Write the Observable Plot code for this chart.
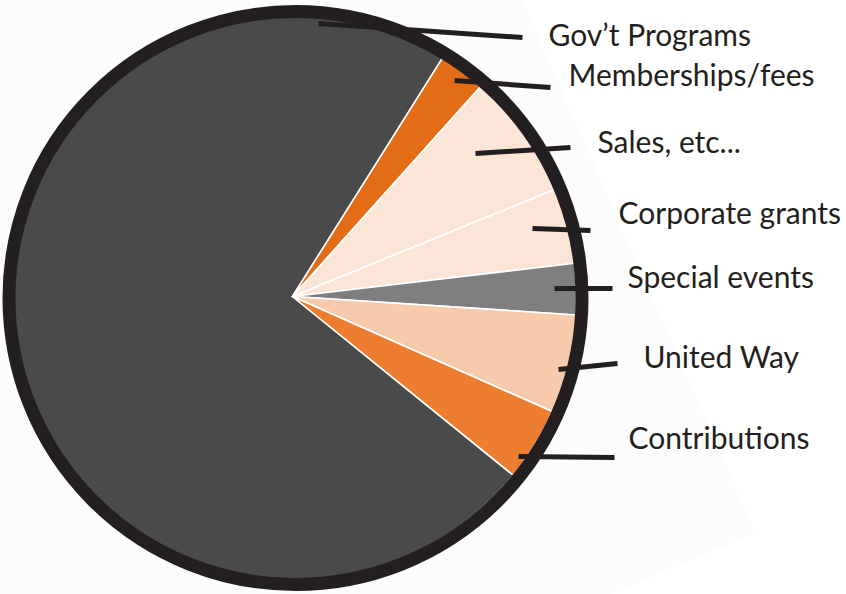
<!DOCTYPE html>
<html><head><meta charset="utf-8">
<script src="https://cdn.jsdelivr.net/npm/d3@7"></script>
<script src="https://cdn.jsdelivr.net/npm/@observablehq/plot@0.6"></script>
<style>
html,body{margin:0;padding:0;background:#fff;overflow:hidden}
#chart svg{display:block}
</style>
</head><body><div id="chart"></div>
<script>
// ---- data ----
const categories = ["Gov’t Programs","Memberships/fees","Sales, etc...","Corporate grants","Special events","United Way","Contributions"];
const shares = [73.1, 2.7, 7.2, 4.3, 2.9, 5.6, 4.2];
const colors = ["#4a4a4a","#e36c17","#fbe5d6","#fbe5d6","#7f7f7f","#f7caac","#ed7d31"];

// ---- layout (pixel space) ----
const W = 846, H = 594;
const center = {x: 292, y: 296};
const pieR = 284;
const startDeg = 129;
const ring = {x: 295, y: 297.5, r: 286.5, w: 13};
const labelX = [548, 568, 597, 618, 627, 643, 628];
const labelY = [45, 85, 152, 223, 287, 367, 448];
const leadFrom = [[318,23],[454,80],[475,153],[532,228],[554,288],[558,369],[518,456]];
const leadTo   = [[522,37],[550,87],[570,147],[590,230],[612,288],[617,363],[614,457]];
const page = [[0,0],[522,0],[755,532],[610,594],[0,594]];

// ---- build slices ----
const a0 = startDeg * Math.PI / 180;
const arcs = d3.pie().sort(null).startAngle(a0).endAngle(a0 + 2*Math.PI)(shares);
const verts = [];
arcs.forEach((a, i) => {
  const cat = categories[i];
  verts.push({cat, x: center.x, y: center.y});
  const n = Math.max(2, Math.ceil((a.endAngle - a.startAngle) / (0.5*Math.PI/180)));
  for (let k = 0; k <= n; k++) {
    const t = a.startAngle + (a.endAngle - a.startAngle) * k / n;
    verts.push({cat, x: center.x + pieR*Math.sin(t), y: center.y - pieR*Math.cos(t)});
  }
  verts.push({cat, x: center.x, y: center.y});
});

const labels = categories.map((c, i) => ({c, x: labelX[i], y: labelY[i],
  x1: leadFrom[i][0], y1: leadFrom[i][1], x2: leadTo[i][0], y2: leadTo[i][1]}));

const chart = Plot.plot({
  width: W, height: H,
  margin: 0,
  x: {domain: [0, W], range: [0, W], axis: null},
  y: {domain: [0, H], range: [0, H], axis: null},
  color: {domain: categories, range: colors},
  style: {background: "#fff", overflow: "visible"},
  marks: [
    Plot.line(page, {x: d => d[0], y: d => d[1], fill: "#fcfcfc", stroke: "none"}),
    Plot.line(verts, {x: "x", y: "y", z: "cat", fill: "cat", stroke: "#fff", strokeWidth: 1.6, strokeLinejoin: "round", curve: "linear"}),
    Plot.dot([ring], {x: "x", y: "y", r: ring.r, fill: "none", stroke: "#231f20", strokeWidth: ring.w}),
    Plot.link(labels, {x1: "x1", y1: "y1", x2: "x2", y2: "y2", stroke: "#231f20", strokeWidth: 5}),
    Plot.text(labels, {x: "x", y: "y", text: "c", textAnchor: "start", lineAnchor: "bottom", fill: "#231f20", fontSize: 30, fontFamily: "Lato"})
  ]
});
document.getElementById("chart").appendChild(chart);
</script>
</body></html>
